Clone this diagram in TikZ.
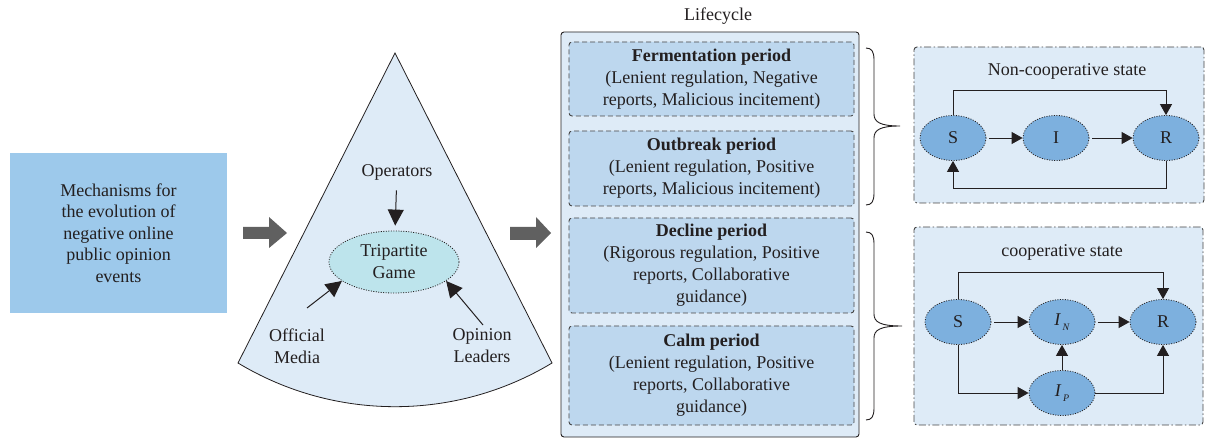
\documentclass[tikz,border=0pt]{standalone}
\usepackage{fontspec}
\setmainfont{Liberation Serif}
\usetikzlibrary{shapes.geometric,arrows.meta}
\definecolor{leftblue}{RGB}{157,201,235}
\definecolor{paleblue}{RGB}{222,235,247}
\definecolor{midblue}{RGB}{189,215,238}
\definecolor{nodeblue}{RGB}{125,176,222}
\definecolor{cyanfill}{RGB}{189,228,236}
\definecolor{arrgray}{RGB}{96,96,96}
\definecolor{dashgray}{RGB}{70,70,70}
\definecolor{txt}{RGB}{35,31,32}
\begin{document}
\begin{tikzpicture}[x=1pt,y=-1pt,
 every node/.style={font=\fontsize{18}{22}\selectfont, text=txt},
 arr/.style={-{Triangle[length=11pt,width=12pt]}, line width=0.9pt, draw=txt},
 bigarr/.style={-{Triangle[length=16pt,width=16pt]}, line width=1pt, draw=txt},
 period/.style={draw=dashgray, dash pattern=on 5pt off 3pt, fill=midblue, rounded corners=3pt, minimum width=285pt, align=center, inner sep=0pt, line width=0.9pt},
 sir/.style={ellipse, draw=txt, dash pattern=on 1pt off 1.5pt, fill=nodeblue, minimum width=66pt, minimum height=45pt, inner sep=0pt, line width=0.8pt},
 panel/.style={draw=dashgray, dash pattern=on 7pt off 2.5pt on 1.5pt off 2.5pt, fill=paleblue, rounded corners=3pt, line width=0.9pt, inner sep=0pt},
 bigarrow/.style={fill=arrgray},
 bracestyle/.style={draw=txt, line width=0.9pt},
]
\useasboundingbox (0,0) rectangle (1208,438);

% left box
\node[fill=leftblue, minimum width=217pt, minimum height=160pt, align=center, font=\fontsize{18}{21.5}\selectfont] (mech) at (118.5,233)
 {Mechanisms for\\the evolution of\\negative online\\public opinion\\events};

% gray block arrows
\fill[bigarrow] (243,227) -- (269,227) -- (269,217) -- (287,233) -- (269,248) -- (269,239) -- (243,239) -- cycle;
\fill[bigarrow] (510,227) -- (536,227) -- (536,217) -- (551,233) -- (536,248) -- (536,240) -- (510,240) -- cycle;

% sector
\draw[fill=paleblue, line width=0.8pt, draw=txt] (395,53) -- (238,363) arc[start angle=121.1, end angle=58.9, radius=304] -- cycle;

\node[ellipse, draw=txt, dash pattern=on 1pt off 1.5pt, fill=cyanfill, minimum width=130pt, minimum height=62pt, align=center, inner sep=0pt, line width=0.8pt] (game) at (394,262) {Tripartite\\Game};
\node (op) at (397,172) {Operators};
\node[align=center] (om) at (297,346) {Official\\Media};
\node[align=center] (ol) at (482,346) {Opinion\\Leaders};
\coordinate (omA) at (307,308);
\coordinate (olA) at (483,325);
\draw[bigarr, shorten <=7pt, shorten >=5pt] (op) -- (game);
\draw[bigarr] (omA) -- (game.200);
\draw[bigarr] (olA) -- (game.-20);

% lifecycle
\node (lc) at (718,16) {Lifecycle};
\node[draw=txt, fill=paleblue, rounded corners=3pt, minimum width=298pt, minimum height=405pt, line width=0.9pt, inner sep=0pt] (life) at (710,234.5) {};
\node[period, minimum height=74pt] (p1) at (711.5,79) {\textbf{Fermentation period}\\(Lenient regulation, Negative\\reports, Malicious incitement)};
\node[period, minimum height=75pt] (p2) at (711.5,168.5) {\textbf{Outbreak period}\\(Lenient regulation, Positive\\reports, Malicious incitement)};
\node[period, minimum height=95pt] (p3) at (711.5,265.5) {\textbf{Decline period}\\(Rigorous regulation, Positive\\reports, Collaborative\\guidance)};
\node[period, minimum height=99pt] (p4) at (711.5,375.5) {\textbf{Calm period}\\(Lenient regulation, Positive\\reports, Collaborative\\guidance)};

% braces
\draw[bracestyle] (866,48) .. controls (872,48) and (874,52) .. (874,60) -- (874,114) .. controls (874,122) and (880,126) .. (900,126) .. controls (880,126) and (874,130) .. (874,138) -- (874,193) .. controls (874,201) and (872,205) .. (866,205);
\draw[bracestyle] (866,232) .. controls (872,232) and (874,236) .. (874,244) -- (874,314) .. controls (874,322) and (880,326) .. (902,326) .. controls (880,326) and (874,330) .. (874,338) -- (874,408) .. controls (874,416) and (872,420) .. (866,420);

% non-cooperative panel
\node[panel, minimum width=290pt, minimum height=156pt] (pan1) at (1059,125) {};
\node (t1) at (1067,71) {Non-cooperative state};
\node[sir] (S1) at (953,138) {S};
\node[sir] (I1) at (1056,138) {I};
\node[sir] (R1) at (1166,138) {R};
\draw[arr, shorten <=3pt] (S1) -- (I1);
\draw[arr, shorten <=3pt] (I1) -- (R1);
\draw[arr] (S1.north) -- ++(0,-25) -| (R1.north);
\draw[arr] (R1.south) -- ++(0,28) -| (S1.south);

% cooperative panel
\node[panel, minimum width=289pt, minimum height=198pt] (pan2) at (1058.5,326) {};
\node (t2) at (1062,252) {cooperative state};
\node[sir] (S2) at (958,322) {S};
\node[sir] (IN) at (1062,322) {\textit{I}\raisebox{-0.6ex}{\fontsize{10}{10}\selectfont\,\textit{N}}};
\node[sir] (R2) at (1163,322) {R};
\node[sir] (IP) at (1062,393) {\textit{I}\raisebox{-0.6ex}{\fontsize{10}{10}\selectfont\,\textit{P}}};
\draw[arr, shorten <=3pt] (S2) -- (IN);
\draw[arr, shorten <=3pt] (IN) -- (R2);
\draw[arr] (S2.north) -- ++(0,-26.5) -| (R2.north);
\draw[arr] (S2.south) |- (IP.west);
\draw[arr] (IP) -- (IN);
\draw[arr] (IP.east) -| (R2.south);
\end{tikzpicture}
\end{document}
